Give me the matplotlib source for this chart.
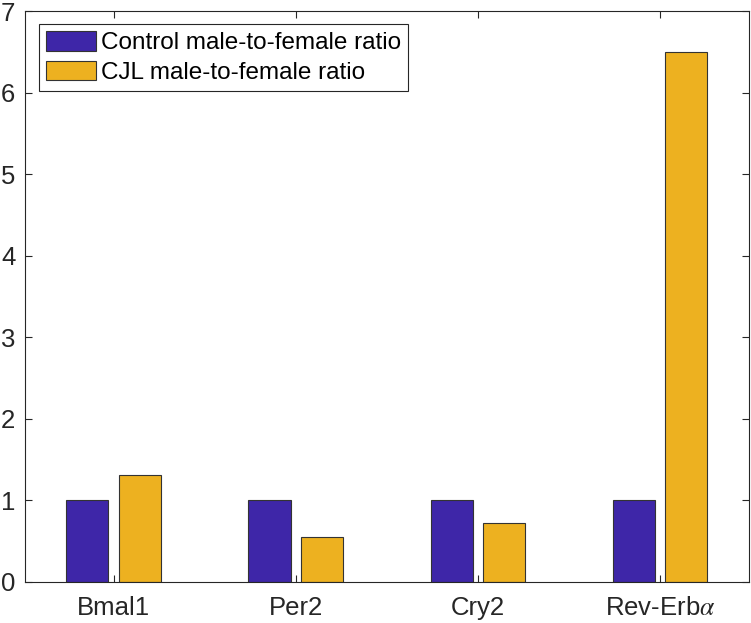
import matplotlib
matplotlib.use("Agg")
import matplotlib.pyplot as plt
import numpy as np

categories = ["Bmal1", "Per2", "Cry2", "Rev-Erb$\\alpha$"]
control_ratio = [1.0, 1.0, 1.0, 1.0]
cjl_ratio = [1.31, 0.55, 0.725, 6.5]
series_labels = ["Control male-to-female ratio", "CJL male-to-female ratio"]
yticks = [0, 1, 2, 3, 4, 5, 6, 7]

plt.rcParams['font.family'] = ['Liberation Sans', 'DejaVu Sans']
plt.rcParams['mathtext.fontset'] = 'stix'

axcol = '#262626'
fig = plt.figure(figsize=(7.51, 6.23), dpi=100)
ax_left, ax_right = 25.0, 748.5
ax = fig.add_axes([ax_left/751, 1-581.7/623, (ax_right-ax_left)/751, (581.7-11)/623])

x = np.arange(1, len(categories)+1)
off = 0.144
w = 0.231
ax.bar(x - off, control_ratio, w, color='#3E26A8', edgecolor='#333333', linewidth=0.8,
       label=series_labels[0], zorder=2)
ax.bar(x + off, cjl_ratio, w, color='#EDB120', edgecolor='#333333', linewidth=0.8,
       label=series_labels[1], zorder=2)

ax.set_xlim(0.513, 4.487)
ax.set_ylim(0, 7)
ax.set_xticks(x)
ax.set_xticklabels(categories)
ax.set_yticks(yticks)
ax.tick_params(axis='both', direction='in', length=5, width=0.8, colors=axcol,
               labelsize=18.5, top=True, right=True)
ax.tick_params(axis='x', pad=10)
ax.tick_params(axis='y', pad=7)
for sp in ax.spines.values():
    sp.set_color(axcol)
    sp.set_linewidth(0.8)

leg = ax.legend(loc='upper left', bbox_to_anchor=(13.7/723.5, 1-13/570.7), fontsize=17.5,
                frameon=True, fancybox=False, edgecolor=axcol, framealpha=1,
                handlelength=2.06, handleheight=0.86, handletextpad=0.2,
                borderpad=0.3, labelspacing=0.25, borderaxespad=0)
leg.get_frame().set_linewidth(0.8)

fig.savefig("out.png", dpi=100)
